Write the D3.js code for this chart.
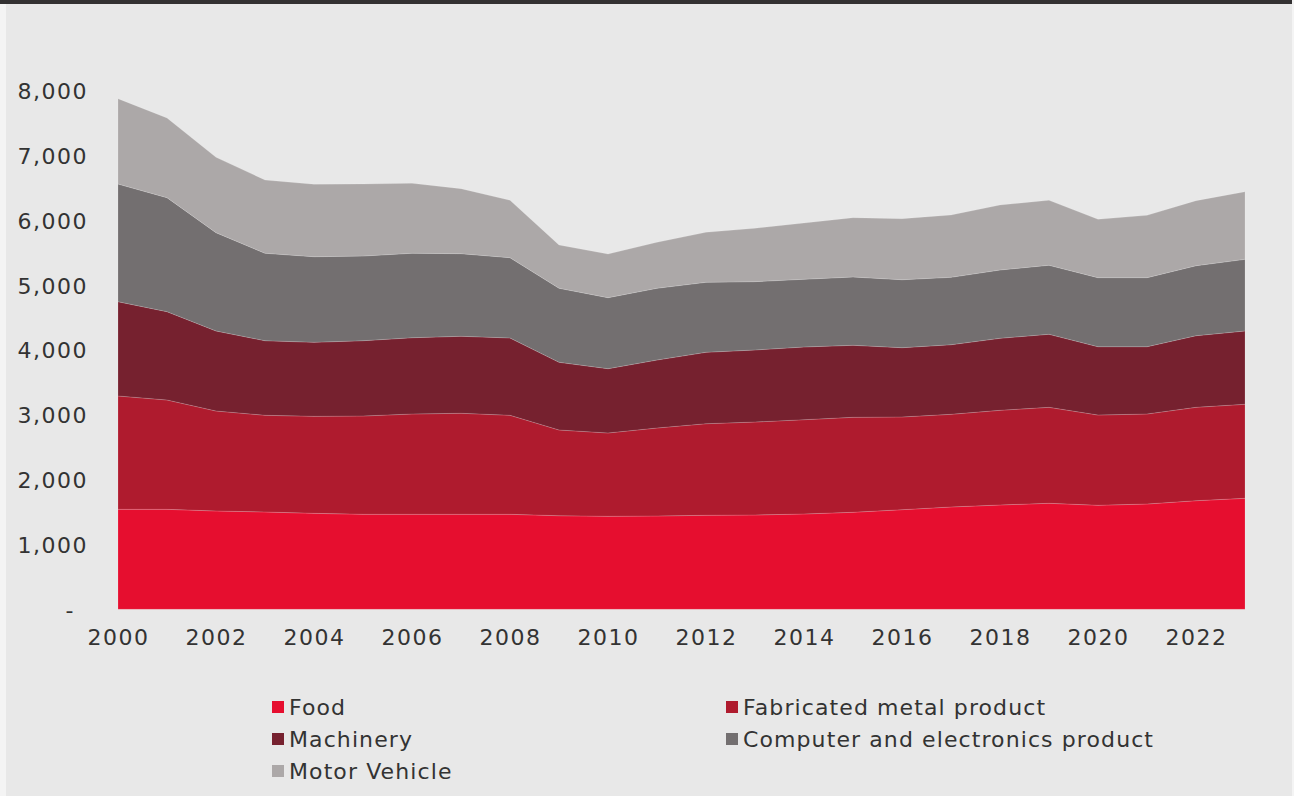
<!DOCTYPE html>
<html><head><meta charset="utf-8">
<script src="https://cdn.jsdelivr.net/npm/d3@7"></script>
<style>
html,body{margin:0;padding:0;background:#f4f4f4;}
svg{display:block;}
text{font-family:"DejaVu Sans","Open Sans",sans-serif;fill:#333;}
</style></head><body>
<svg id="chart" width="1294" height="796"></svg>
<script>
const years = d3.range(2000, 2024);
const seriesNames = ["Food","Fabricated metal product","Machinery","Computer and electronics product","Motor Vehicle"];
const colors = ["#e60e2f","#af1b2e","#76212f","#736f70","#aca8a8"];
const food =      [1543,1543,1517,1502,1481,1466,1466,1466,1466,1444,1435,1440,1451,1455,1471,1497,1537,1579,1610,1636,1605,1625,1676,1713];
const fabricated= [1749,1687,1543,1492,1497,1517,1548,1559,1528,1323,1286,1358,1413,1435,1455,1466,1431,1430,1461,1481,1393,1389,1441,1451];
const machinery = [1455,1363,1235,1151,1142,1162,1177,1188,1193,1045, 992,1049,1102,1112,1122,1111,1069,1074,1111,1127,1054,1038,1105,1131];
const computer  = [1816,1759,1517,1349,1321,1306,1303,1275,1239,1142,1096,1107,1080,1054,1045,1054,1049,1040,1054,1065,1065,1065,1080,1106];
const motor     = [1317,1230,1163,1131,1118,1112,1080,1003, 886, 668, 674, 710, 772, 824, 868, 915, 942, 962,1003,1003, 902, 963,1004,1043];
const yTicks = [0,1000,2000,3000,4000,5000,6000,7000,8000];
const xTicks = [2000,2002,2004,2006,2008,2010,2012,2014,2016,2018,2020,2022];

const table = years.map((y,i)=>({year:y, "Food":food[i], "Fabricated metal product":fabricated[i], "Machinery":machinery[i], "Computer and electronics product":computer[i], "Motor Vehicle":motor[i]}));

const svg = d3.select("#chart");
svg.append("rect").attr("x",0).attr("y",0).attr("width",1294).attr("height",796).attr("fill","#f4f4f4");
svg.append("rect").attr("x",6).attr("y",0).attr("width",1286).attr("height",796).attr("fill","#e8e8e8");
svg.append("rect").attr("x",0).attr("y",0).attr("width",1292).attr("height",4).attr("fill","#333132");

const x = d3.scaleLinear().domain([2000,2023]).range([118,1245]);
const y = d3.scaleLinear().domain([0,8000]).range([609.3,90.9]);

const stack = d3.stack().keys(seriesNames);
const layers = stack(table);
const area = d3.area().x(d=>x(d.data.year)).y0(d=>y(d[0])).y1(d=>y(d[1]));

svg.append("g").selectAll("path").data(layers).join("path")
  .attr("d",area).attr("fill",(d,i)=>colors[i])
  .attr("stroke","rgba(255,255,255,0.25)").attr("stroke-width",0.6);

const fs = "22px";
// y axis
const yAxis = d3.axisLeft(y).tickValues(yTicks).tickSize(0).tickPadding(0)
  .tickFormat(v=> v===0 ? "-" : d3.format(",")(v));
const yg = svg.append("g").attr("transform","translate(88,0)").call(yAxis);
yg.select(".domain").remove();
yg.selectAll("text").style("font-size",fs).style("letter-spacing","1.5px").attr("fill","#333").attr("dy","0.35em")
  .attr("x", d=> d===0 ? -13 : 0);

// x axis
const xAxis = d3.axisBottom(x).tickValues(xTicks).tickSize(0).tickPadding(0).tickFormat(d3.format("d"));
const xg = svg.append("g").attr("transform","translate(0,637)").call(xAxis);
xg.select(".domain").remove();
xg.selectAll("text").style("font-size",fs).style("letter-spacing","1.5px").attr("fill","#333").attr("dy","0.35em");

// legend
const legendPos = [[272,707],[726,707],[272,739],[726,739],[272,771]];
const lg = svg.append("g").selectAll("g").data(seriesNames).join("g")
  .attr("transform",(d,i)=>`translate(${legendPos[i][0]},${legendPos[i][1]})`);
lg.append("rect").attr("x",0).attr("y",-6).attr("width",12).attr("height",12).attr("fill",(d,i)=>colors[i]);
lg.append("text").attr("x",17).attr("y",0).attr("dy","0.35em").style("font-size",fs).style("letter-spacing","1.1px").text(d=>d);
</script>
</body></html>
